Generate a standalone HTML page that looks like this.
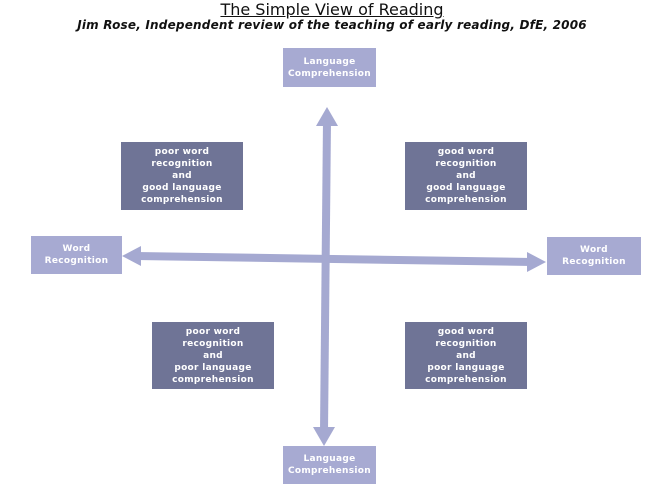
<!DOCTYPE html>
<html><head><meta charset="utf-8"><style>
body{margin:0;width:664px;height:495px;background:#fff;overflow:hidden;position:relative;font-family:"Comic Sans MS","DejaVu Sans","Liberation Sans",sans-serif}
.t{position:absolute;left:0;width:664px;text-align:center;color:#111}
.b{position:absolute;display:flex;align-items:center;justify-content:center;text-align:center;color:#fff;font-size:9px;line-height:12px;letter-spacing:0.3px;font-weight:bold}
.l{background:#a7aad2}
.d{background:#6f7496}
</style></head><body>
<div class="t" style="top:0;font-size:16px;"><span style="text-decoration:underline">The Simple View of Reading</span></div>
<div class="t" style="top:18px;font-size:12px;font-style:italic;font-weight:bold;letter-spacing:0.2px">Jim Rose, Independent review of the teaching of early reading, DfE, 2006</div>
<svg style="position:absolute;left:0;top:0" width="664" height="495">
<g fill="#a5a9d1" stroke="#a5a9d1">
<line x1="327" y1="120" x2="324" y2="432" stroke-width="8"/>
<polygon points="327,107 316,126 338,126" stroke="none"/>
<polygon points="324,446 313,427 335,427" stroke="none"/>
<line x1="136" y1="256" x2="532" y2="262" stroke-width="8"/>
<polygon points="122,256 141,246 141,266" stroke="none"/>
<polygon points="546,262 527,252 527,272" stroke="none"/>
</g></svg>
<div class="b l" style="left:283px;top:48px;width:93px;height:39px">Language<br>Comprehension</div>
<div class="b l" style="left:31px;top:236px;width:91px;height:38px">Word<br>Recognition</div>
<div class="b l" style="left:547px;top:237px;width:94px;height:38px">Word<br>Recognition</div>
<div class="b l" style="left:283px;top:446px;width:93px;height:38px">Language<br>Comprehension</div>
<div class="b d" style="left:121px;top:142px;width:122px;height:68px">poor word<br>recognition<br>and<br>good language<br>comprehension</div>
<div class="b d" style="left:405px;top:142px;width:122px;height:68px">good word<br>recognition<br>and<br>good language<br>comprehension</div>
<div class="b d" style="left:152px;top:322px;width:122px;height:67px">poor word<br>recognition<br>and<br>poor language<br>comprehension</div>
<div class="b d" style="left:405px;top:322px;width:122px;height:67px">good word<br>recognition<br>and<br>poor language<br>comprehension</div>
</body></html>
